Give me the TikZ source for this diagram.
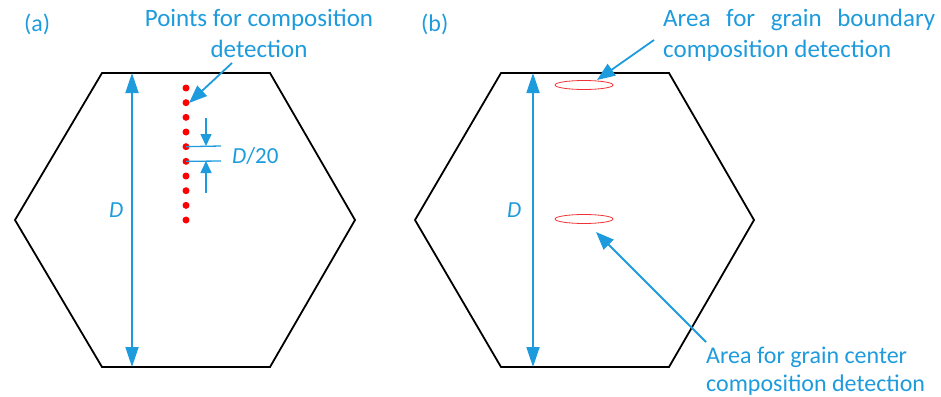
\documentclass[tikz,border=0pt]{standalone}
\usepackage{fontspec}
\setmainfont{Carlito}
\usetikzlibrary{arrows.meta,shapes.geometric}
\definecolor{myblue}{RGB}{30,155,220}
\definecolor{myred}{RGB}{240,50,50}
\begin{document}
\begin{tikzpicture}[x=1pt,y=-1pt,
  hexline/.style={black, line width=1.8pt, line join=miter},
  dimarrow/.style={myblue, line width=1.8pt, {Triangle[length=20pt,width=13pt]}-{Triangle[length=20pt,width=13pt]}},
  ptr/.style={myblue, line width=1.8pt, -{Triangle[length=18pt,width=14pt]}},
  smallarrow/.style={myblue, line width=1.5pt, -{Triangle[length=12pt,width=11pt]}},
  tick/.style={myblue, line width=1.3pt},
  lbl/.style={text=myblue, font=\fontsize{25}{30}\selectfont, inner sep=0pt},
  lbls/.style={text=myblue, font=\fontsize{24}{28}\selectfont, inner sep=0pt},
  lbld/.style={text=myblue, font=\fontsize{23}{27}\selectfont, inner sep=0pt},
  dot/.style={circle, fill=red, inner sep=0pt, minimum size=7pt},
  area/.style={ellipse, draw=myred, line width=0.8pt, inner sep=0pt, minimum width=58pt, minimum height=9pt}]
\useasboundingbox (0,0) rectangle (941,396);

% ---------- (a) ----------
\coordinate (a1) at (15,220);
\coordinate (a2) at (102,73);
\coordinate (a3) at (270,73);
\coordinate (a4) at (355,220);
\coordinate (a5) at (270,367);
\coordinate (a6) at (102,367);
\draw[hexline] (a1) -- (a2) -- (a3) -- (a4) -- (a5) -- (a6) -- cycle;

\coordinate (aDt) at (132,73);
\coordinate (aDb) at (132,367);
\draw[dimarrow] (aDt) -- (aDb);
\node[lbld, anchor=base west] (aD) at (109,217) {\textit{D}};

\node[lbls, anchor=base west] (alab) at (24,32) {(a)};

\foreach \i in {0,...,9} {
  \node[dot] (p\i) at (186,{88+\i*14.67}) {};
}
\coordinate (t4) at (221,146);
\coordinate (t5) at (221,161);
\draw[tick] (p4.center) -- (t4);
\draw[tick] (p5.center) -- (t5);
\coordinate (s4) at (206,118);
\coordinate (e4) at (206,146);
\coordinate (s5) at (206,193);
\coordinate (e5) at (206,161);
\draw[smallarrow] (s4) -- (e4);
\draw[smallarrow] (s5) -- (e5);
\node[lbld, anchor=base west] (d20) at (232,163) {\textit{D}/20};

\node[lbl, anchor=base] (pt1) at (259,27) {Points for composition};
\node[lbl, anchor=base] (pt2) at (259,57) {detection};
\coordinate (ptS) at (232,63);
\coordinate (ptE) at (189,103);
\draw[ptr] (ptS) -- (ptE);

% ---------- (b) ----------
\coordinate (b1) at (415,220);
\coordinate (b2) at (501,73);
\coordinate (b3) at (669,73);
\coordinate (b4) at (754,220);
\coordinate (b5) at (669,367);
\coordinate (b6) at (501,367);
\draw[hexline] (b1) -- (b2) -- (b3) -- (b4) -- (b5) -- (b6) -- cycle;

\coordinate (bDt) at (533,73);
\coordinate (bDb) at (533,367);
\draw[dimarrow] (bDt) -- (bDb);
\node[lbld, anchor=base west] (bD) at (507,217) {\textit{D}};

\node[lbls, anchor=base west] (blab) at (421,32) {(b)};

\node[area] (e1) at (584,85) {};
\node[area] (e2) at (584,219) {};

\node[lbl, anchor=base west] (gb1) at (663,27) {\makebox[272pt][s]{Area for grain boundary}};
\node[lbl, anchor=base west] (gb2) at (663,57) {composition detection};
\coordinate (gbS) at (654,40);
\coordinate (gbE) at (597,80);
\draw[ptr] (gbS) -- (gbE);

\node[lbls, anchor=base west] (gc1) at (706,363) {Area for grain center};
\node[lbls, anchor=base west] (gc2) at (706,391) {composition detection};
\coordinate (gcS) at (706,342);
\coordinate (gcE) at (596,232);
\draw[ptr] (gcS) -- (gcE);
\end{tikzpicture}
\end{document}
